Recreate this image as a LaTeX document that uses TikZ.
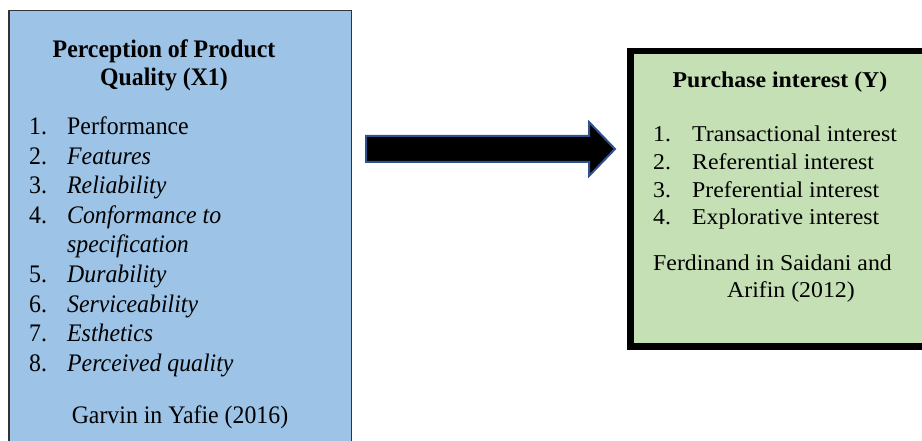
\documentclass[tikz,border=0pt]{standalone}
\usepackage{fontspec}
\setmainfont{Liberation Serif}
\definecolor{lblue}{HTML}{9DC3E6}
\definecolor{lgreen}{HTML}{C5E0B4}
\definecolor{arrowblue}{HTML}{2F528F}
\definecolor{boxedge}{HTML}{333333}
\newcommand\lsc[1]{\scalebox{1}[1.06]{#1}}
\newcommand\rsc[1]{\scalebox{1}[0.95]{#1}}
\begin{document}
\begin{tikzpicture}[x=1pt,y=-1pt,
  txt/.style={anchor=base west, inner sep=0pt, font=\fontsize{23.8}{28}\selectfont},
  ctxt/.style={anchor=base, inner sep=0pt, font=\fontsize{23.8}{28}\selectfont},
  btxt/.style={anchor=base, inner sep=0pt, font=\fontsize{23.8}{28}\selectfont\bfseries}]
\useasboundingbox (0,0) rectangle (922,441);
\begin{scope}
\clip (0,0) rectangle (922,441);
\draw[fill=lblue, draw=boxedge, line width=1.6pt] (9,10.5) rectangle (351.5,460);
\draw[fill=lgreen, draw=black, line width=6.5pt] (630.5,51) rectangle (945,346.5);
\end{scope}
\draw[fill=black, draw=arrowblue, line width=2pt, line join=miter]
  (366,136) -- (589,136) -- (589,122) -- (615,149) -- (589,176) -- (589,162) -- (366,162) -- cycle;
% left box text
\node[btxt] (t1) at (164,58) {\lsc{Perception of Product}};
\node[btxt] (t2) at (164,86) {\lsc{Quality (X1)}};
\foreach \n/\y/\s in {1/135/{Performance},2/164.5/{\itshape Features},3/194/{\itshape Reliability},4/223.5/{\itshape Conformance to},5/282.5/{\itshape Durability},6/312/{\itshape Serviceability},7/341.5/{\itshape Esthetics},8/371/{\itshape Perceived quality}}{
  \node[txt] (ln\n) at (29,\y) {\lsc{\n.}};
  \node[txt] (li\n) at (67,\y) {\lsc{\s}};
}
\node[txt] (li4b) at (67,253) {\lsc{\itshape specification}};
\node[ctxt] (src1) at (180,423) {\lsc{Garvin in Yafie (2016)}};
% right box text
\node[btxt] (r0) at (780,88) {\rsc{Purchase interest (Y)}};
\foreach \n/\y/\s in {1/142/{Transactional interest},2/169.5/{Referential interest},3/197/{Preferential interest},4/224.5/{Explorative interest}}{
  \node[txt] (rn\n) at (653,\y) {\rsc{\n.}};
  \node[txt] (ri\n) at (692,\y) {\rsc{\s}};
}
\node[txt] (src2a) at (653,270) {\rsc{Ferdinand in Saidani and}};
\node[txt] (src2b) at (727,297) {\rsc{Arifin (2012)}};
\end{tikzpicture}
\end{document}
